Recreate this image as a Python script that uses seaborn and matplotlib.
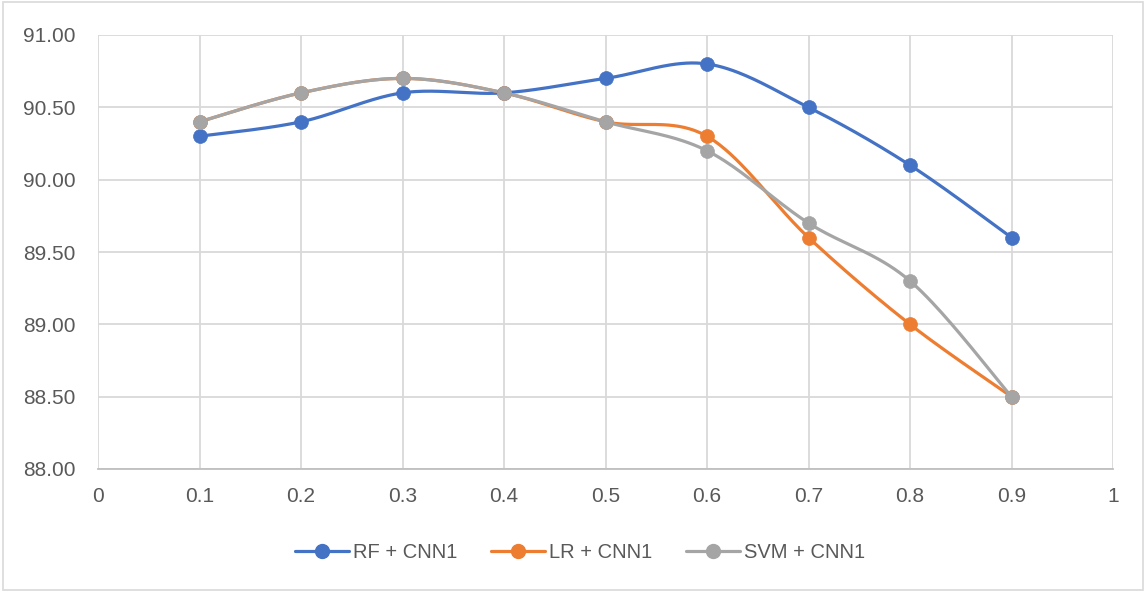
import numpy as np
import pandas as pd
import matplotlib
matplotlib.use("Agg")
import matplotlib.pyplot as plt
from matplotlib.lines import Line2D
from matplotlib.patches import Rectangle
import seaborn as sns

# Data
ratios = [0.1, 0.2, 0.3, 0.4, 0.5, 0.6, 0.7, 0.8, 0.9]
rf_cnn1 = [90.3, 90.4, 90.6, 90.6, 90.7, 90.8, 90.5, 90.1, 89.6]
lr_cnn1 = [90.4, 90.6, 90.7, 90.6, 90.4, 90.3, 89.6, 89.0, 88.5]
svm_cnn1 = [90.4, 90.6, 90.7, 90.6, 90.4, 90.2, 89.7, 89.3, 88.5]
series_names = ["RF + CNN1", "LR + CNN1", "SVM + CNN1"]
colors = ["#4472C4", "#ED7D31", "#A5A5A5"]

df = pd.DataFrame({"ratio": ratios, series_names[0]: rf_cnn1,
                   series_names[1]: lr_cnn1, series_names[2]: svm_cnn1})
long = df.melt(id_vars="ratio", var_name="model", value_name="accuracy")


def smooth_curve(x, y, steps=40):
    """Cubic Bezier smoothing through every point (Catmull-Rom style)."""
    x = np.asarray(x, float)
    y = np.asarray(y, float)
    n = len(x)
    xs, ys = [], []
    for i in range(n - 1):
        p0 = np.array([x[max(i - 1, 0)], y[max(i - 1, 0)]])
        p1 = np.array([x[i], y[i]])
        p2 = np.array([x[i + 1], y[i + 1]])
        p3 = np.array([x[min(i + 2, n - 1)], y[min(i + 2, n - 1)]])
        c1 = p1 + (p2 - p0) / 6.0
        c2 = p2 - (p3 - p1) / 6.0
        t = np.linspace(0, 1, steps)[:, None]
        pts = ((1 - t) ** 3) * p1 + 3 * ((1 - t) ** 2) * t * c1 \
            + 3 * (1 - t) * t ** 2 * c2 + t ** 3 * p2
        xs.append(pts[:, 0])
        ys.append(pts[:, 1])
    return np.concatenate(xs), np.concatenate(ys)


sns.set_theme(style="white")
plt.rcParams["font.family"] = ["Liberation Sans", "DejaVu Sans"]

fig = plt.figure(figsize=(11.46, 5.92), dpi=100)
ax = fig.add_axes([98 / 1146, 1 - 469 / 592, (1113 - 98) / 1146, (469 - 35) / 592])

for name, col in zip(series_names, colors):
    sub = long[long["model"] == name]
    sx, sy = smooth_curve(sub["ratio"], sub["accuracy"])
    sns.lineplot(x=sx, y=sy, ax=ax, color=col, linewidth=2.3, sort=False,
                 estimator=None, zorder=3)
    sns.scatterplot(x=sub["ratio"], y=sub["accuracy"], ax=ax, color=col,
                    s=100, edgecolor=col, linewidth=0.5, zorder=4, legend=False)

ax.set_xlim(0, 1)
ax.set_ylim(88, 91)
ax.set_xticks(np.arange(0, 1.01, 0.1))
ax.set_xticklabels(["0"] + [f"{v:.1f}" for v in np.arange(0.1, 0.95, 0.1)] + ["1"])
ax.set_yticks(np.arange(88, 91.01, 0.5))
ax.set_yticklabels([f"{v:.2f}" for v in np.arange(88, 91.01, 0.5)])
ax.grid(True, color="#D9D9D9", linewidth=1.3)
ax.set_axisbelow(True)
for side, sp in ax.spines.items():
    sp.set_visible(side == "bottom")
ax.spines["bottom"].set_color("#BFBFBF")
ax.spines["bottom"].set_linewidth(1.3)
ax.tick_params(axis="both", length=0, labelsize=15, labelcolor="#595959")
ax.tick_params(axis="x", pad=13)
ax.tick_params(axis="y", pad=16)
ax.set_xlabel("")
ax.set_ylabel("")

handles = [Line2D([0], [0], color=c, linewidth=2.3, marker="o", markersize=10)
           for c in colors]
fig.legend(handles, series_names, loc="center", bbox_to_anchor=(580 / 1146, 1 - 553 / 592),
           ncol=3, frameon=False, fontsize=14.5, labelcolor="#595959",
           handlelength=2.7, handletextpad=0.2, columnspacing=1.65)

fig.patches.append(Rectangle((3 / 1146, 2 / 592), 1140 / 1146, 588 / 592,
                             transform=fig.transFigure, fill=False,
                             edgecolor="#D9D9D9", linewidth=1.2))

fig.savefig("out.png", dpi=100, facecolor="white")
